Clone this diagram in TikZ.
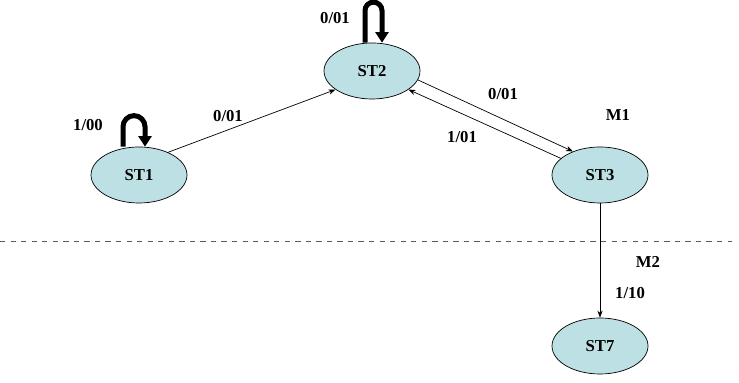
\documentclass[tikz,border=0pt]{standalone}
\usepackage{fontspec}
\setmainfont{Liberation Serif}
\usetikzlibrary{shapes.geometric,arrows.meta}
\definecolor{stfill}{RGB}{189,224,228}
\newcommand{\lbl}{\fontsize{9.5}{11}\selectfont\bfseries}

\begin{document}
\begin{tikzpicture}[
    state/.style={ellipse,draw,fill=stfill,minimum width=1.92cm,minimum height=1.12cm,inner sep=0pt,font=\lbl},
    txt/.style={font=\lbl,inner sep=0pt},
    edge/.style={-{Stealth[length=4pt,width=3pt]},line width=0.4pt},
    selfloop/.style={line width=0.1cm,-{Triangle[length=0.21cm,width=0.26cm]}}]
    \useasboundingbox (0,0) rectangle (14.78,7.66);
    % states
    \node[state] (st1) at ( 2.78,4.16) {ST1};
    \node[state] (st2) at ( 7.44,6.24) {ST2};
    \node[state] (st3) at (12.00,4.16) {ST3};
    \node[state] (st7) at (12.00,0.74) {ST7};
    % self loops
    \draw[selfloop] ([xshift=-0.32cm]st1.north) -- ++(0,0.4) arc (180:0:0.22) -- ([xshift=0.12cm]st1.north);
    \draw[selfloop] ([xshift=-0.14cm]st2.north) -- ++(0,0.64) arc (180:0:0.17) -- ([xshift=0.20cm]st2.north);
    % transitions
    \draw[edge] (st1.38) -- (st2.207);
    \draw[edge] (st2.349) -- (st3.139);
    \draw[edge] (st3.157) -- (st2.333);
    \draw[edge] (st3.south) -- (st7.north);
    % machine border
    \draw[dashed,gray!70!black] (0,2.84) -- (14.64,2.84);
    % labels
    \node[txt] (l1) at ( 1.76,5.16) {1/00};
    \node[txt] (l2) at ( 6.70,7.30) {0/01};
    \node[txt] (l3) at ( 4.56,5.34) {0/01};
    \node[txt] (l4) at (10.06,5.78) {0/01};
    \node[txt] (l5) at ( 9.24,4.92) {1/01};
    \node[txt] (m1) at (12.36,5.36) {M1};
    \node[txt] (m2) at (12.96,2.42) {M2};
    \node[txt] (l6) at (12.60,1.80) {1/10};
\end{tikzpicture}
\end{document}
